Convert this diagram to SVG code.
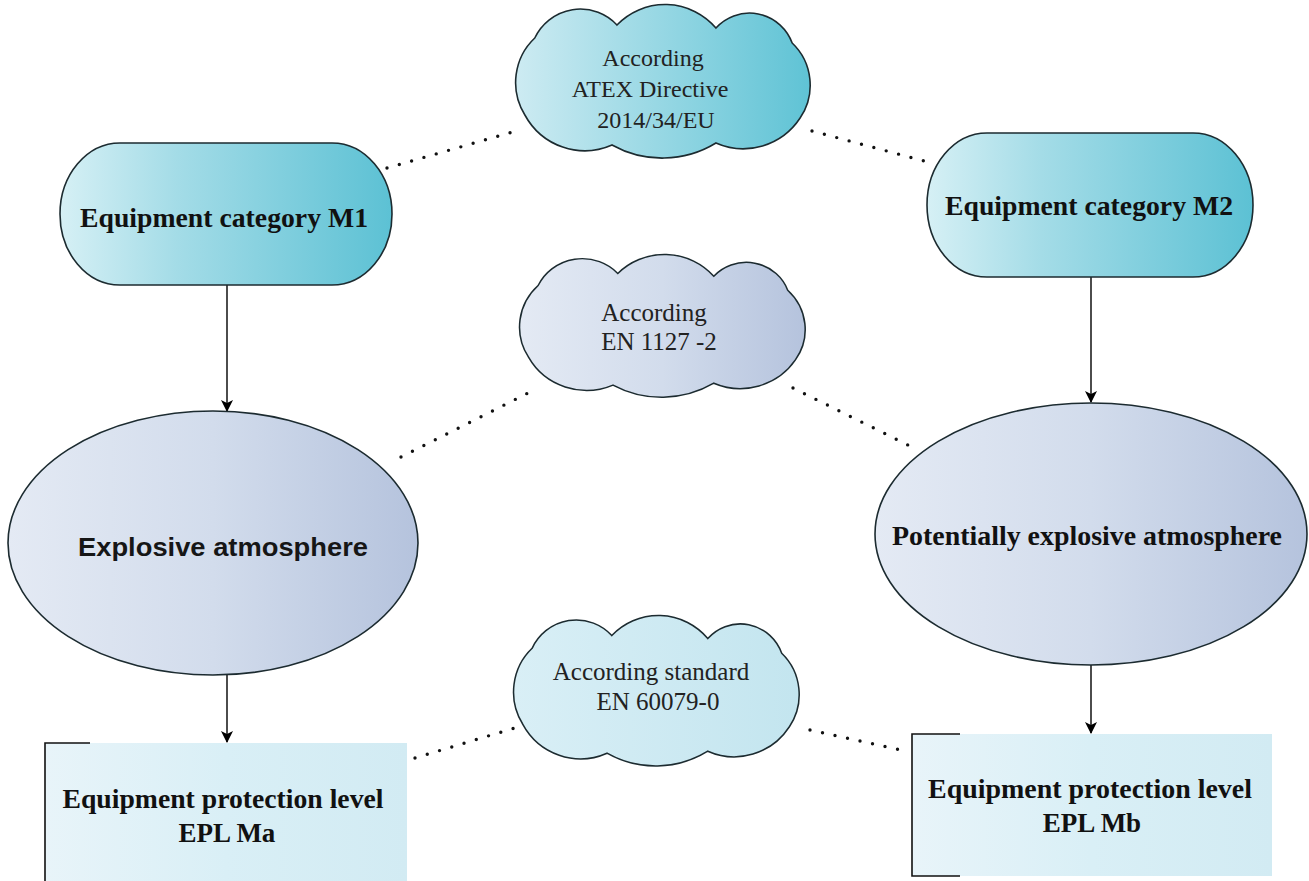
<svg xmlns="http://www.w3.org/2000/svg" width="1309" height="881" viewBox="0 0 1309 881">
<style>
.outline{stroke:#1c2b30;stroke-width:1.6;}
.cloud{stroke:#1c2b30;stroke-width:1.6;vector-effect:non-scaling-stroke;}
.bold{font-family:"Liberation Serif","Times New Roman",serif;font-weight:bold;font-size:27px;fill:#111;text-anchor:middle;}
.cl{font-family:"Liberation Serif","Times New Roman",serif;font-size:24px;fill:#222;text-anchor:middle;}
.sans{font-family:"Liberation Sans",Arial,sans-serif;font-size:25px;font-weight:bold;fill:#161616;text-anchor:middle;}
.arrow{stroke:#000;stroke-width:1.4;fill:none;marker-end:url(#ah);}
.dots{stroke:#111;stroke-width:3.4;stroke-linecap:round;stroke-dasharray:0 12.8;fill:none;}
.bracket{stroke:#111;stroke-width:1.6;fill:none;}
</style>
<defs>
<linearGradient id="gTeal" x1="0" y1="0" x2="1" y2="0">
<stop offset="0" stop-color="#d6f0f5"/><stop offset="0.35" stop-color="#a4dce7"/><stop offset="1" stop-color="#5cc1d4"/>
</linearGradient>
<linearGradient id="gCloud1" x1="0" y1="0" x2="1" y2="0">
<stop offset="0" stop-color="#cdebf2"/><stop offset="1" stop-color="#5fc3d5"/>
</linearGradient>
<linearGradient id="gSteel" x1="0" y1="0" x2="1" y2="0">
<stop offset="0" stop-color="#e4eaf4"/><stop offset="0.5" stop-color="#d2dcec"/><stop offset="1" stop-color="#b5c3dd"/>
</linearGradient>
<linearGradient id="gCloud3" x1="0" y1="0" x2="1" y2="0">
<stop offset="0" stop-color="#d9eff6"/><stop offset="1" stop-color="#c3e5ef"/>
</linearGradient>
<linearGradient id="gBox" x1="0" y1="0" x2="1" y2="0">
<stop offset="0" stop-color="#e8f4f9"/><stop offset="0.5" stop-color="#d9eff6"/><stop offset="1" stop-color="#d2ebf3"/>
</linearGradient>
<path id="cloudShape" d="M22,35 A51,51 0 0 1 105,22 A68,68 0 0 1 205,25 A46,46 0 0 1 282,40 A58,58 0 0 1 290,115 A69,69 0 0 1 205,140 A105,105 0 0 1 100,142 A69,69 0 0 1 12,112 A61,61 0 0 1 22,35 Z"/>
<marker id="ah" viewBox="0 0 12 12" refX="11" refY="6" markerWidth="12" markerHeight="12" markerUnits="userSpaceOnUse" orient="auto">
<path d="M0,0 L12,6 L0,12 L3,6 Z" fill="#000"/>
</marker>
</defs>
<rect width="1309" height="881" fill="#ffffff"/>

<g id="connectors">
<line class="arrow" x1="227" y1="285" x2="227" y2="411"/>
<line class="arrow" x1="227" y1="675" x2="227" y2="742"/>
<line class="arrow" x1="1091" y1="277" x2="1091" y2="402"/>
<line class="arrow" x1="1091" y1="665" x2="1091" y2="733"/>
<line class="dots" x1="387" y1="168" x2="516" y2="131"/>
<line class="dots" x1="812" y1="131" x2="928" y2="162"/>
<line class="dots" x1="401" y1="457" x2="534" y2="390"/>
<line class="dots" x1="793" y1="388" x2="918" y2="450"/>
<line class="dots" x1="415" y1="758" x2="518" y2="727"/>
<line class="dots" x1="810" y1="730" x2="910" y2="752"/>
</g>

<g id="cloud-atex">
<use href="#cloudShape" class="cloud" fill="url(#gCloud1)" transform="translate(513,3) scale(0.99,1.0)"/>
<text class="cl" x="653" y="66">According</text>
<text class="cl" x="650" y="97">ATEX Directive</text>
<text class="cl" x="656" y="128">2014/34/EU</text>
</g>

<g id="cat-m1">
<rect class="outline" x="60" y="143" width="332" height="142" rx="60" ry="71" fill="url(#gTeal)"/>
<text class="bold" x="224" y="227" textLength="288" lengthAdjust="spacingAndGlyphs">Equipment category M1</text>
</g>

<g id="cat-m2">
<rect class="outline" x="927" y="133" width="326" height="144" rx="60" ry="72" fill="url(#gTeal)"/>
<text class="bold" x="1089" y="215" textLength="288" lengthAdjust="spacingAndGlyphs">Equipment category M2</text>
</g>

<g id="cloud-en1127">
<use href="#cloudShape" class="cloud" fill="url(#gSteel)" transform="translate(517,253) scale(0.96,0.93)"/>
<text class="cl" x="654" y="321" style="font-size:25px">According</text>
<text class="cl" x="659" y="350" style="font-size:25px">EN 1127 -2</text>
</g>

<g id="explosive">
<ellipse class="outline" cx="213" cy="543" rx="205" ry="132" fill="url(#gSteel)"/>
<text class="sans" x="223" y="556" textLength="290" lengthAdjust="spacingAndGlyphs">Explosive atmosphere</text>
</g>

<g id="potentially">
<ellipse class="outline" cx="1091" cy="534" rx="216" ry="131" fill="url(#gSteel)"/>
<text class="bold" x="1087" y="545" textLength="390" lengthAdjust="spacingAndGlyphs">Potentially explosive atmosphere</text>
</g>

<g id="cloud-en60079">
<use href="#cloudShape" class="cloud" fill="url(#gCloud3)" transform="translate(511,614) scale(0.96,0.98)"/>
<text class="cl" x="651" y="680" style="font-size:25px">According standard</text>
<text class="cl" x="658" y="710" style="font-size:25px">EN 60079-0</text>
</g>

<g id="epl-ma">
<rect x="45" y="743" width="362" height="140" fill="url(#gBox)"/>
<path class="bracket" d="M90,743 H45 V881"/>
<text class="bold" x="223" y="808" textLength="321" lengthAdjust="spacingAndGlyphs">Equipment protection level</text>
<text class="bold" x="227" y="842">EPL Ma</text>
</g>

<g id="epl-mb">
<rect x="912" y="734" width="360" height="142" fill="url(#gBox)"/>
<path class="bracket" d="M960,734 H912 V876 H960"/>
<text class="bold" x="1090" y="798" textLength="324" lengthAdjust="spacingAndGlyphs">Equipment protection level</text>
<text class="bold" x="1092" y="832">EPL Mb</text>
</g>
</svg>
